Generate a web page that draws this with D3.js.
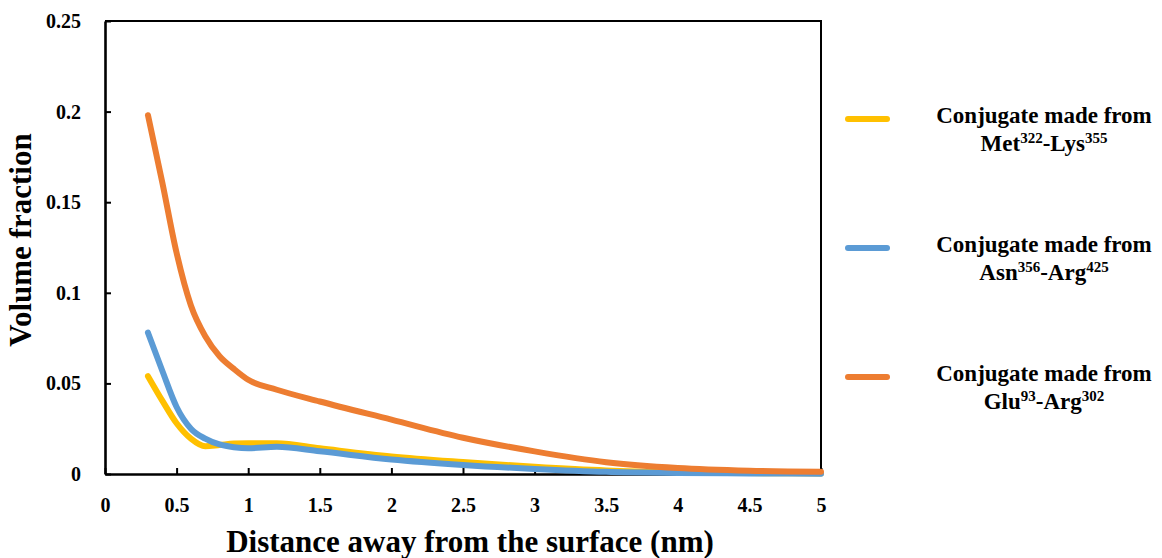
<!DOCTYPE html>
<html>
<head>
<meta charset="utf-8">
<script src="https://cdn.jsdelivr.net/npm/d3@7"></script>
<style>
  html, body { margin: 0; padding: 0; background: #fff; }
  svg { display: block; font-family: "Liberation Serif", "Times New Roman", serif; font-weight: bold; }
</style>
</head>
<body>
<svg id="chart" width="1162" height="558"></svg>
<script>
// Distance from the surface (nm)
const distance = [0.3, 0.4, 0.5, 0.6, 0.7, 0.8, 0.9, 1.0, 1.2, 1.5, 2.0, 2.5, 3.0, 3.5, 4.0, 4.5, 5.0];

// Volume fraction per conjugate
const metLys = [0.054, 0.0405, 0.028, 0.0195, 0.0153, 0.016, 0.0168, 0.017, 0.017, 0.0142, 0.0097, 0.0066, 0.004, 0.002, 0.001, 0.0005, 0.0003];
const asnArg = [0.078, 0.057, 0.037, 0.025, 0.0195, 0.0163, 0.0148, 0.0142, 0.015, 0.0125, 0.008, 0.005, 0.0028, 0.0012, 0.0006, 0.0003, 0.0002];
const gluArg = [0.198, 0.161, 0.122, 0.093, 0.076, 0.065, 0.058, 0.052, 0.0465, 0.040, 0.030, 0.020, 0.0125, 0.0065, 0.0033, 0.0018, 0.0012];

const xTicks = [0, 0.5, 1, 1.5, 2, 2.5, 3, 3.5, 4, 4.5, 5];
const yTicks = [0, 0.05, 0.1, 0.15, 0.2, 0.25];

const series = [
  { name: ["Met", "322", "-Lys", "355"], values: metLys, color: "#FFC000" },
  { name: ["Asn", "356", "-Arg", "425"], values: asnArg, color: "#5B9BD5" },
  { name: ["Glu", "93", "-Arg", "302"], values: gluArg, color: "#ED7D31" }
];

const svg = d3.select("#chart");
const plot = { left: 105, right: 821, top: 21, bottom: 474 };

const x = d3.scaleLinear().domain([0, 5]).range([plot.left, plot.right]);
const y = d3.scaleLinear().domain([0, 0.25]).range([plot.bottom, plot.top]);

// frame (top and right edges)
svg.append("path")
  .attr("d", `M${plot.left},${plot.top}H${plot.right}V${plot.bottom}`)
  .attr("fill", "none").attr("stroke", "#000").attr("stroke-width", 2);

// x axis with inward ticks
const xAxis = svg.append("g")
  .attr("transform", `translate(0,${plot.bottom})`)
  .call(d3.axisBottom(x).tickValues(xTicks).tickSize(-6).tickPadding(24)
    .tickFormat(d => String(d)).tickSizeOuter(0));
xAxis.select(".domain").attr("stroke-width", 2.6);
xAxis.selectAll(".tick line").attr("stroke-width", 2);
xAxis.selectAll(".tick text")
  .attr("font-size", "20px").attr("font-family", "Liberation Serif").attr("font-weight", "bold")
  .attr("fill", "#000");

// y axis with inward ticks
const yAxis = svg.append("g")
  .attr("transform", `translate(${plot.left},0)`)
  .call(d3.axisLeft(y).tickValues(yTicks).tickSize(-6).tickPadding(24)
    .tickFormat(d => String(d)).tickSizeOuter(0));
yAxis.select(".domain").attr("stroke-width", 2.6);
yAxis.selectAll(".tick line").attr("stroke-width", 2);
yAxis.selectAll(".tick text")
  .attr("font-size", "20px").attr("font-family", "Liberation Serif").attr("font-weight", "bold")
  .attr("fill", "#000");

// smoothed curves
const line = d3.line()
  .x((d, i) => x(distance[i]))
  .y(d => y(d))
  .curve(d3.curveMonotoneX);

series.forEach(s => {
  svg.append("path")
    .datum(s.values)
    .attr("d", line)
    .attr("fill", "none")
    .attr("stroke", s.color)
    .attr("stroke-width", 6)
    .attr("stroke-linecap", "round")
    .attr("stroke-linejoin", "round");
});

// axis titles
svg.append("text")
  .attr("x", 470).attr("y", 552)
  .attr("text-anchor", "middle")
  .attr("font-size", "31px")
  .text("Distance away from the surface (nm)");

svg.append("text")
  .attr("transform", "translate(31,240) rotate(-90)")
  .attr("text-anchor", "middle")
  .attr("font-size", "31px")
  .text("Volume fraction");

// legend
const legendY = [119, 248, 377];
series.forEach((s, i) => {
  const ly = legendY[i];
  svg.append("line")
    .attr("x1", 848).attr("x2", 887)
    .attr("y1", ly).attr("y2", ly)
    .attr("stroke", s.color).attr("stroke-width", 6).attr("stroke-linecap", "round");

  svg.append("text")
    .attr("x", 1044).attr("y", ly + 4)
    .attr("text-anchor", "middle")
    .attr("font-size", "23px")
    .text("Conjugate made from");

  const t = svg.append("text")
    .attr("x", 1044).attr("y", ly + 32)
    .attr("text-anchor", "middle")
    .attr("font-size", "23px");
  t.append("tspan").text(s.name[0]);
  t.append("tspan").attr("font-size", "15px").attr("dy", -8).text(s.name[1]);
  t.append("tspan").attr("dy", 8).text(s.name[2]);
  t.append("tspan").attr("font-size", "15px").attr("dy", -8).text(s.name[3]);
});
</script>
</body>
</html>
